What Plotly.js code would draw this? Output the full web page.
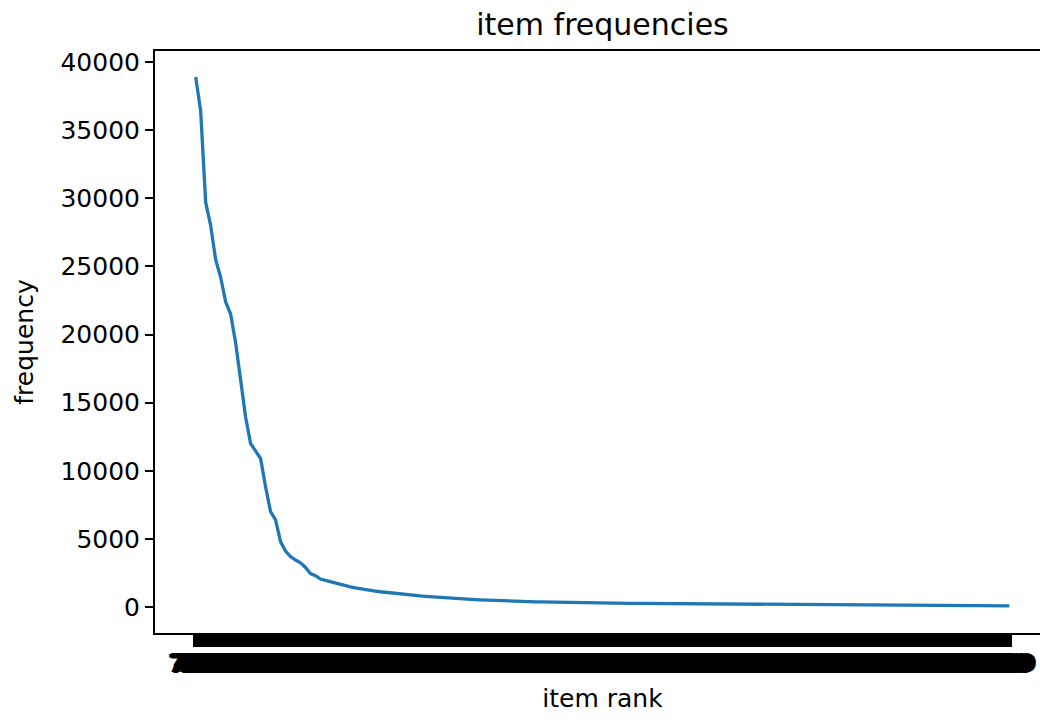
<!DOCTYPE html>
<html>
<head>
<meta charset="utf-8">
<script src="https://cdn.plot.ly/plotly-3.0.1.min.js"></script>
<style>
html, body { margin: 0; padding: 0; overflow: hidden; background: #fff; }
#chart { width: 1060px; height: 723px; }
</style>
</head>
<body>
<div id="chart"></div>
<script>
// item labels (x categories, in rank order) — illegible in the reference, estimated
const itemLabels = [
"723","413","193","553","303","883","273","613","943","113",
"334","764","504","224","884","444","664","154","994","354",
"205","775","515","845","135","605","495","365","925","255",
"706","186","536","816","476","626","396","146","966","286",
"567","737","127","407","857","377","697","247","917","587",
"168","748","428","808","298","658","318","978","138","528",
"869","219","709","489","359","939","179","649","269","599",
"820","300","750","140","460","980","230","610","500","870",
"191","361","721","441","901","251","681","111","531","801",
"322","792","162","452","912","282","632","572","122","842",
"393","713","243","483","953","103","673","333","823","513",
"274","784","144","494","934","374","604","214","834","564",
"175","745","415","885","315","575","655","225","955","385",
"236","716","466","926","196","656","316","896","546","266",
"787","137","477","947","307","607","257","817","527","197",
"758","438","988","368","638","218","858","508","178","778",
"449","909","279","619"
];

// frequency of each item
const frequencies = [
38900,36400,29700,28000,25500,24200,22400,21500,19400,16600,
13950,12000,11500,10900,8830,7000,6400,4800,4100,3700,
3450,3250,2900,2450,2300,2050,1950,1850,1720,1620,
1550,1480,1400,1330,1270,1220,1170,1120,1075,1030,
995,960,920,880,845,810,780,750,725,700,
675,650,625,600,580,560,542,525,507,490,
475,460,447,435,422,410,400,390,380,370,
361,352,343,335,328,322,316,310,305,300,
295,290,286,282,278,275,271,267,263,260,
257,254,251,248,245,242,239,236,233,230,
227,225,222,220,217,215,212,210,207,205,
203,200,198,196,194,192,190,188,186,184,
182,180,178,176,174,172,170,168,167,165,
163,161,160,158,156,154,153,151,149,148,
146,144,142,141,139,137,135,134,132,130,
128,126,124,122,120,117,115,112,109,106,
103,100,95,90
];

// y-axis tick labels
const yTickVals = [0,5000,10000,15000,20000,25000,30000,35000,40000];
const yTickText = ["0","5000","10000","15000","20000","25000","30000","35000","40000"];

const font = "DejaVu Sans, sans-serif";

const trace = {
  x: itemLabels,
  y: frequencies,
  type: "scatter",
  mode: "lines",
  line: { color: "#1f77b4", width: 3.3 },
  hoverinfo: "skip"
};

const layout = {
  width: 1060,
  height: 723,
  margin: { l: 155, r: 10, t: 51, b: 90 },
  paper_bgcolor: "#fff",
  plot_bgcolor: "#fff",
  showlegend: false,
  font: { family: font, color: "#000" },
  title: {
    text: "item frequencies",
    font: { family: font, size: 30, color: "#000" },
    x: 0.5, xref: "paper", xanchor: "center",
    y: 1 - 24/723, yref: "container", yanchor: "middle"
  },
  xaxis: {
    type: "category",
    range: [-8.15, 171.15],
    tickmode: "linear", tick0: 0, dtick: 1,
    tickangle: 0,
    ticks: "outside", ticklen: 12, tickwidth: 5, tickcolor: "#000",
    tickfont: {
      family: font, size: 25, color: "#000", weight: "bold",
      shadow: "1px 0 0 #000, -1px 0 0 #000, 0 1px 0 #000, 0 -1px 0 #000, 2px 0 0 #000, -2px 0 0 #000"
    },
    ticklabelstandoff: -5,
    ticklabeloverflow: "allow",
    showline: true, linecolor: "#000", linewidth: 2, mirror: true,
    showgrid: false, zeroline: false,
    title: { text: "item rank", font: { family: font, size: 25, color: "#000" }, standoff: 12 },
    automargin: false
  },
  yaxis: {
    range: [-1908, 40807],
    tickmode: "array", tickvals: yTickVals, ticktext: yTickText,
    ticks: "outside", ticklen: 8, tickwidth: 2, tickcolor: "#000",
    tickfont: { family: font, size: 25, color: "#000" },
    showline: true, linecolor: "#000", linewidth: 2, mirror: true,
    showgrid: false, zeroline: false,
    title: { text: "frequency", font: { family: font, size: 25, color: "#000" }, standoff: 20 },
    automargin: false
  }
};

Plotly.newPlot("chart", [trace], layout, { staticPlot: true, displayModeBar: false });
</script>
</body>
</html>
